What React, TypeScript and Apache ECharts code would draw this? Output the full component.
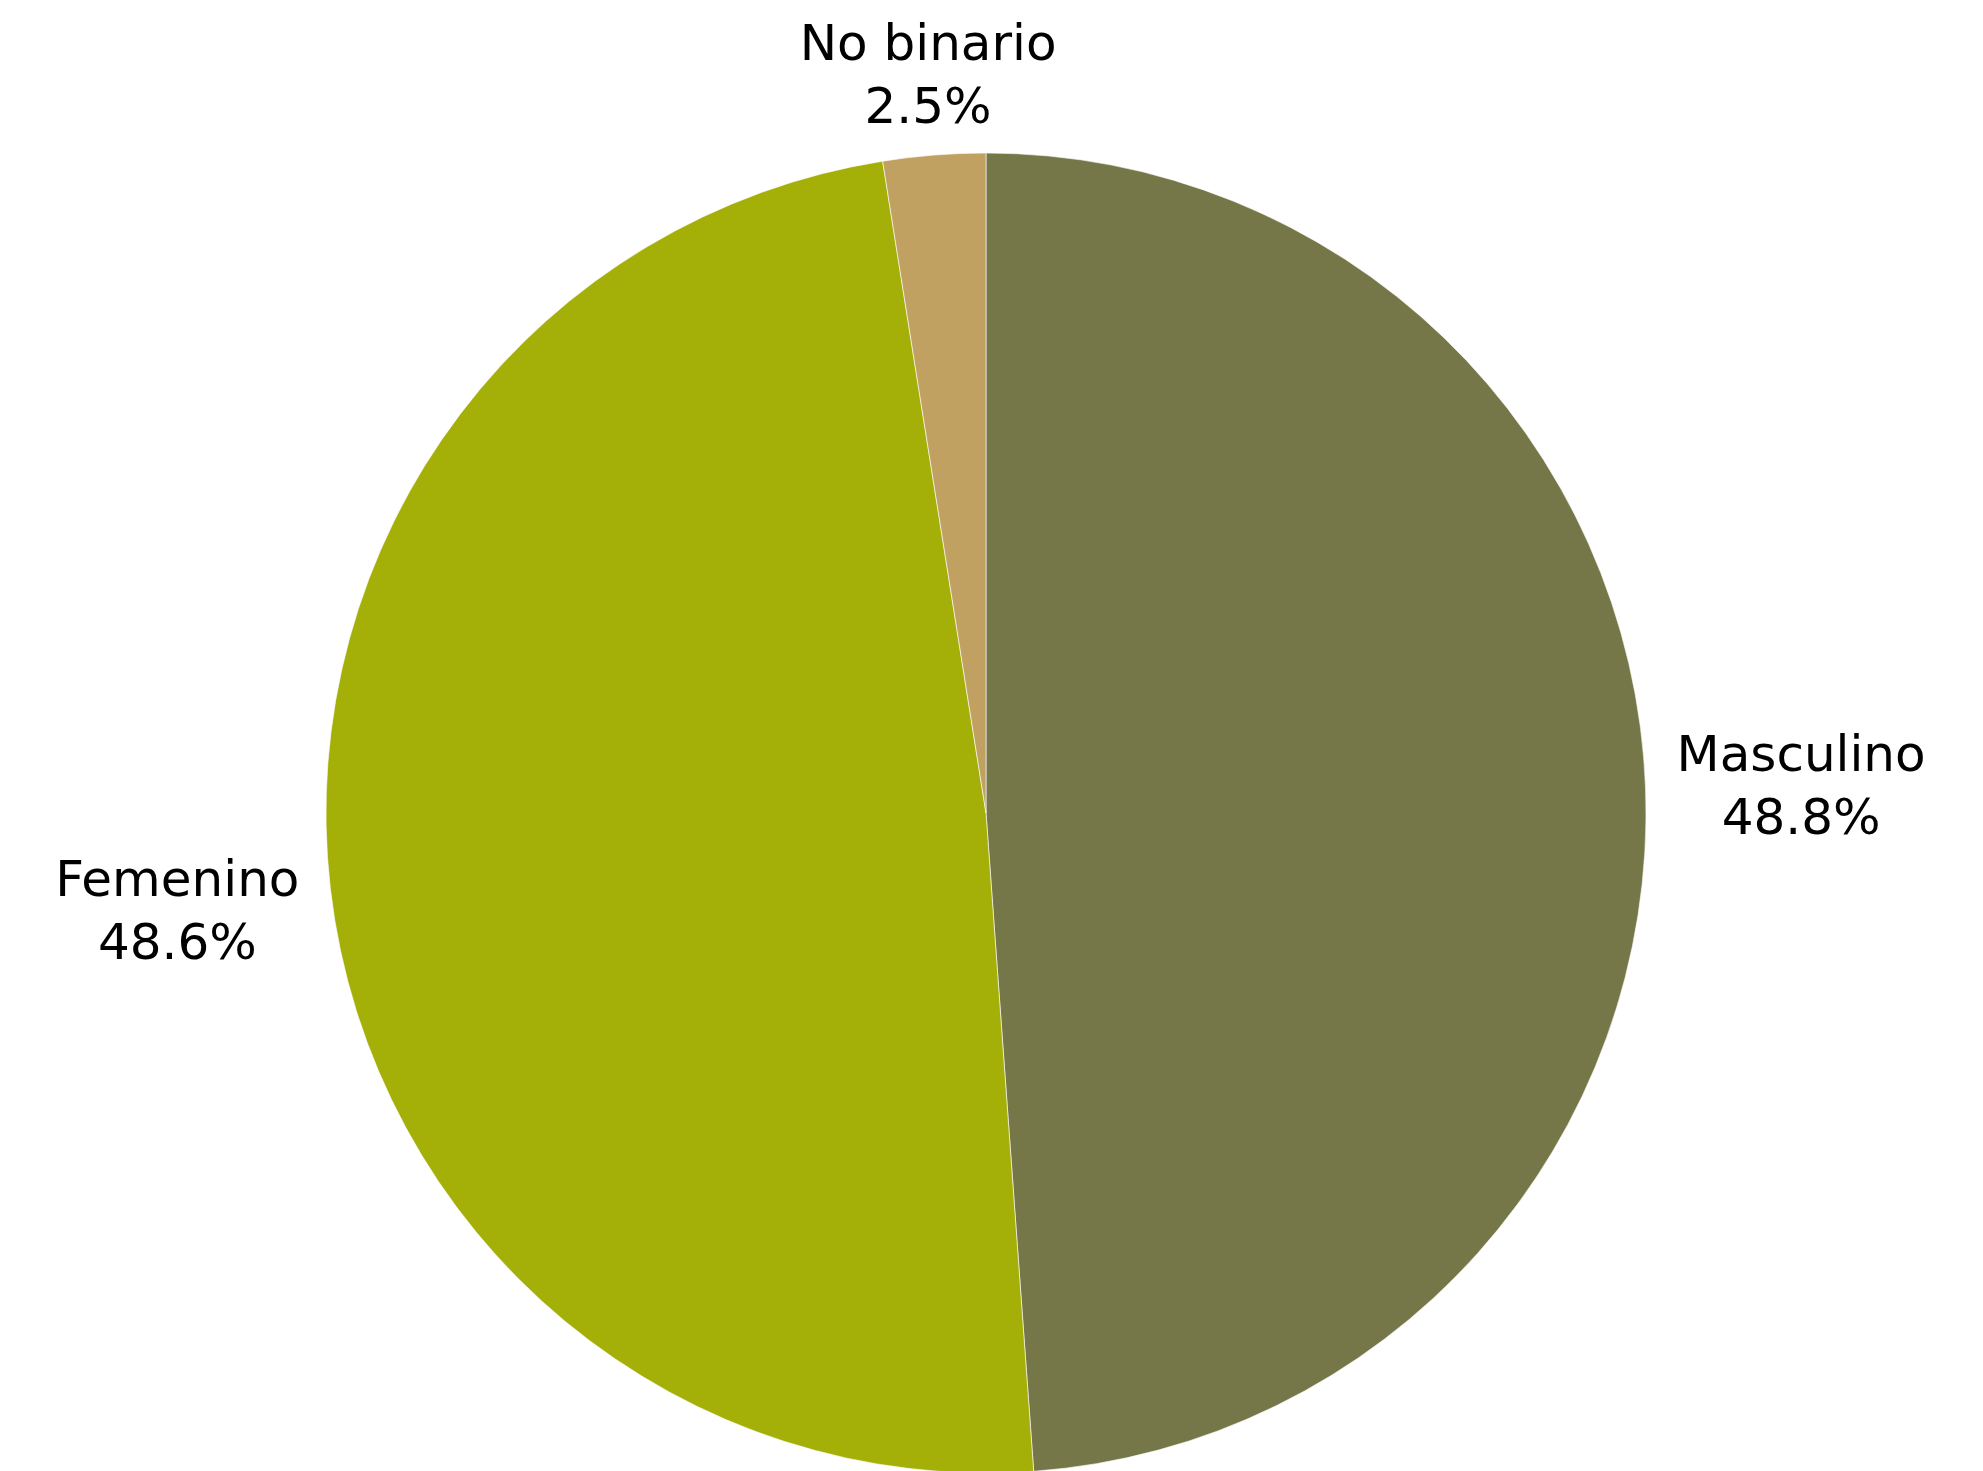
import React, { useEffect, useRef } from 'react';
import * as echarts from 'echarts';

const categories = ['Masculino', 'Femenino', 'No binario'];
const values = [48.8, 48.6, 2.5];
const colors = ['#767748', '#a4af07', '#c1a161'];

const FONT = '"DejaVu Sans", "Noto Sans", sans-serif';
const LEN1 = 14;
const LEN2 = 12;
// small vertical nudges of the labels (layout only)
const LABEL_DY = [-3, 20, -4];

export default function App() {
  const ref = useRef<HTMLDivElement>(null);
  useEffect(() => {
    const chart = echarts.init(ref.current as HTMLDivElement, null, { renderer: 'svg' });
    chart.setOption({
      animation: false,
      backgroundColor: '#ffffff',
      series: [
        {
          type: 'pie',
          center: [986, 813],
          radius: 660,
          startAngle: 90,
          clockwise: true,
          avoidLabelOverlap: false,
          data: categories.map((name, i) => ({
            name,
            value: values[i],
            itemStyle: { color: colors[i] },
          })),
          itemStyle: { borderColor: 'rgba(255,255,255,0.6)', borderWidth: 1 },
          label: {
            show: true,
            position: 'outside',
            formatter: (p: any) => `${p.name}\n${p.value}%`,
            fontFamily: FONT,
            fontSize: 50,
            lineHeight: 63,
            color: '#000000',
          },
          labelLine: { show: false, length: LEN1, length2: LEN2 },
          emphasis: { disabled: true },
          labelLayout: (p: any) => {
            const r = p.labelRect;
            const dy = LABEL_DY[p.dataIndex] || 0;
            if (p.dataIndex === 2) {
              return {
                x: r.x + r.width + LEN2,
                y: r.y + r.height / 2 + dy,
                align: 'center',
                verticalAlign: 'bottom',
              };
            }
            return {
              x: r.x + r.width / 2,
              y: r.y + r.height / 2 + dy,
              align: 'center',
              verticalAlign: 'middle',
            };
          },
        },
      ],
    });
    return () => chart.dispose();
  }, []);
  return (
    <div
      ref={ref}
      style={{ position: 'fixed', left: 0, top: 0, width: 1983, height: 1471 }}
    />
  );
}
